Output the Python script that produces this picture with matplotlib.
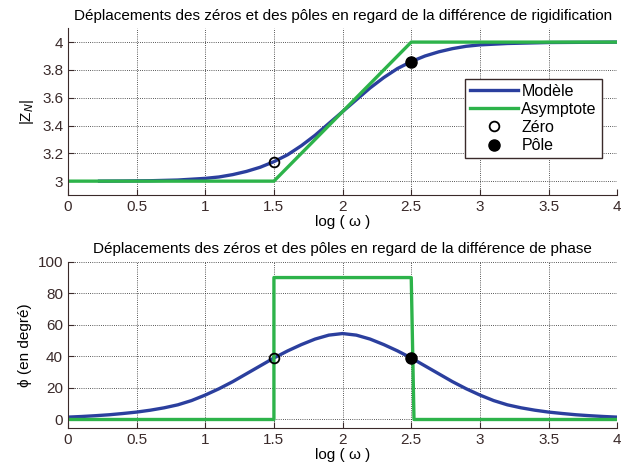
import matplotlib
matplotlib.use("Agg")
import matplotlib.pyplot as plt

plt.rcParams['font.family'] = ['Liberation Sans', 'DejaVu Sans']

# --- top: |Z_N| ---
x_mod = [0.23, 0.4, 0.6, 0.8, 1.0, 1.1, 1.2, 1.3, 1.4, 1.5, 1.6, 1.7, 1.8, 1.9, 2.0,
         2.1, 2.2, 2.3, 2.4, 2.5, 2.6, 2.7, 2.8, 2.9, 3.0, 3.2, 3.5, 4.0]
z_mod = [3.0, 3.001, 3.003, 3.008, 3.02, 3.03, 3.047, 3.07, 3.10, 3.14, 3.19, 3.255, 3.33, 3.415, 3.50,
         3.585, 3.67, 3.745, 3.81, 3.86, 3.90, 3.93, 3.953, 3.97, 3.98, 3.99, 3.997, 4.0]
x_asym = [0, 1.5, 2.5, 4]
z_asym = [3.0, 3.0, 4.0, 4.0]
zero_z = (1.5, 3.14)
pole_z = (2.5, 3.86)

# --- bottom: phase ---
x_ph = [0.0, 0.1, 0.2, 0.3, 0.4, 0.5, 0.6, 0.7, 0.8, 0.9, 1.0, 1.1, 1.2, 1.3, 1.4, 1.5,
        1.6, 1.7, 1.8, 1.9, 2.0, 2.1, 2.2, 2.3, 2.4, 2.5, 2.6, 2.7, 2.8, 2.9, 3.0,
        3.1, 3.2, 3.3, 3.4, 3.5, 3.6, 3.7, 3.8, 3.9, 4.0]
phi = [1.5, 1.9, 2.4, 3.0, 3.8, 4.7, 5.9, 7.4, 9.3, 12.0, 15.5, 19.5, 24.0, 29.0, 34.0, 39.0,
       43.5, 47.5, 51.0, 53.5, 54.5, 53.5, 51.0, 47.5, 43.5, 39.0, 34.0, 29.0, 24.0, 19.5, 15.5,
       12.0, 9.3, 7.4, 5.9, 4.7, 3.8, 3.0, 2.4, 1.9, 1.5]
x_ph_asym = [0, 1.5, 1.5, 2.5, 2.52, 4]
phi_asym = [0, 0, 90, 90, 0, 0]
zero_p = (1.5, 39)
pole_p = (2.5, 39)

blue = '#2b3f9e'
green = '#2db34a'
fs = 11

fig = plt.figure(figsize=(6.35, 4.7), dpi=100)
ax1 = fig.add_axes([0.107, 0.585, 0.865, 0.355])
ax2 = fig.add_axes([0.107, 0.089, 0.865, 0.354])


def style(ax):
    for s in ['top', 'right']:
        ax.spines[s].set_visible(False)
    for s in ['left', 'bottom']:
        ax.spines[s].set_color('#3a2a2a')
    ax.tick_params(direction='in', labelsize=fs, colors='#3a2a2a', length=4)
    ax.grid(True, linestyle=(0, (1, 1.6)), color='#222222', linewidth=0.6)
    ax.set_xlim(0, 4)
    ax.set_xticks([0, 0.5, 1, 1.5, 2, 2.5, 3, 3.5, 4])
    ax.set_xticklabels(['0', '0.5', '1', '1.5', '2', '2.5', '3', '3.5', '4'])
    ax.set_xlabel('log ( ω )', fontsize=fs, labelpad=1)


ax1.plot(x_mod, z_mod, color=blue, lw=2.4, label='Modèle')
ax1.plot(x_asym, z_asym, color=green, lw=2.4, label='Asymptote')
ax1.plot(*zero_z, 'o', mfc='none', mec='black', ms=7, mew=1.3, label='Zéro')
ax1.plot(*pole_z, 'o', mfc='black', mec='black', ms=8, label='Pôle')
ax1.set_ylim(2.9, 4.1)
ax1.set_yticks([3, 3.2, 3.4, 3.6, 3.8, 4])
ax1.set_yticklabels(['3', '3.2', '3.4', '3.6', '3.8', '4'])
ax1.set_ylabel('|Z$_N$|', fontsize=fs)
ax1.set_title('Déplacements des zéros et des pôles en regard de la différence de rigidification',
              fontsize=fs, pad=6)
style(ax1)
leg = ax1.legend(loc='upper right', bbox_to_anchor=(0.986, 0.745), fontsize=11.5,
                 frameon=True, fancybox=False, framealpha=1, edgecolor='#3a2a2a',
                 handlelength=3.0, borderpad=0.3, labelspacing=0.2, handletextpad=0.2)
leg.get_frame().set_linewidth(1.0)

ax2.plot(x_ph, phi, color=blue, lw=2.4)
ax2.plot(x_ph_asym, phi_asym, color=green, lw=2.4)
ax2.plot(*zero_p, 'o', mfc='none', mec='black', ms=7, mew=1.3)
ax2.plot(*pole_p, 'o', mfc='black', mec='black', ms=8)
ax2.set_ylim(-5.5, 100)
ax2.set_yticks([0, 20, 40, 60, 80, 100])
ax2.set_ylabel('ϕ (en degré)', fontsize=fs)
ax2.set_title('Déplacements des zéros et des pôles en regard de la différence de phase',
              fontsize=fs, pad=6)
style(ax2)

fig.savefig('out.png', dpi=100)
